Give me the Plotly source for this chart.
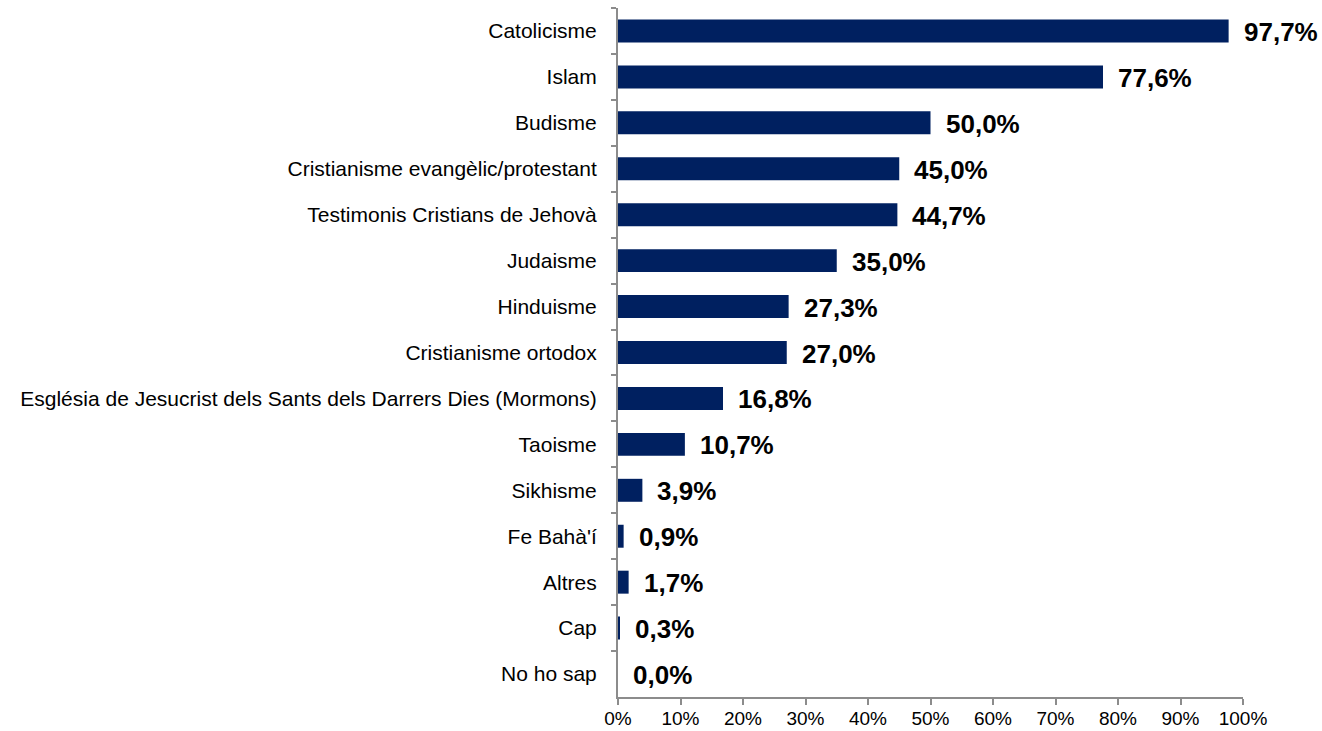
import plotly.graph_objects as go

categories = ["Catolicisme", "Islam", "Budisme", "Cristianisme evangèlic/protestant",
              "Testimonis Cristians de Jehovà", "Judaisme", "Hinduisme", "Cristianisme ortodox",
              "Església de Jesucrist dels Sants dels Darrers Dies (Mormons)", "Taoisme",
              "Sikhisme", "Fe Bahà'í", "Altres", "Cap", "No ho sap"]
values = [97.7, 77.6, 50.0, 45.0, 44.7, 35.0, 27.3, 27.0, 16.8, 10.7, 3.9, 0.9, 1.7, 0.3, 0.0]
x_ticks = list(range(0, 101, 10))
x_tick_labels = [f"{t}%" for t in x_ticks]

def fmt(v):
    return f"{v:.1f}".replace(".", ",") + "%"

AX = "#8c8c8c"
FONT = "Liberation Sans, Arial, sans-serif"

fig = go.Figure(go.Bar(
    x=values, y=categories, orientation="h",
    marker=dict(color="#002060", line=dict(width=0)),
    hoverinfo="skip",
))

for c, v in zip(categories, values):
    fig.add_annotation(x=v, y=c, text=f"<b>{fmt(v)}</b>", showarrow=False,
                       xanchor="left", yanchor="middle", xshift=13, yshift=-1,
                       font=dict(family=FONT, size=26, color="#000000"))

fig.update_layout(
    width=1322, height=731,
    margin=dict(l=618, r=79, t=8, b=34, autoexpand=False),
    plot_bgcolor="white", paper_bgcolor="white",
    bargap=0.5, showlegend=False,
    font=dict(family=FONT, size=21, color="#000000"),
)
fig.update_xaxes(range=[0, 100], tickvals=x_ticks, ticktext=x_tick_labels,
                 showgrid=False, zeroline=False, showline=True, linecolor=AX, linewidth=2,
                 ticks="outside", ticklen=6, tickcolor=AX, tickwidth=2,
                 ticklabelstandoff=-3, automargin=False,
                 tickfont=dict(family=FONT, size=19, color="#000000"))
fig.update_yaxes(autorange="reversed", type="category", tickson="boundaries",
                 showgrid=False, zeroline=False, showline=True, linecolor=AX, linewidth=2,
                 ticks="outside", ticklen=5, tickcolor=AX, tickwidth=2,
                 ticklabelstandoff=15, automargin=False,
                 tickfont=dict(family=FONT, size=21, color="#000000"))

fig.write_html("out.html", config={"displayModeBar": False})
with open("out.html", "r", encoding="utf-8") as f:
    html = f.read()
html = html.replace("<head>", "<head><style>html,body{margin:0;padding:0;overflow:hidden;}</style>", 1)
with open("out.html", "w", encoding="utf-8") as f:
    f.write(html)
